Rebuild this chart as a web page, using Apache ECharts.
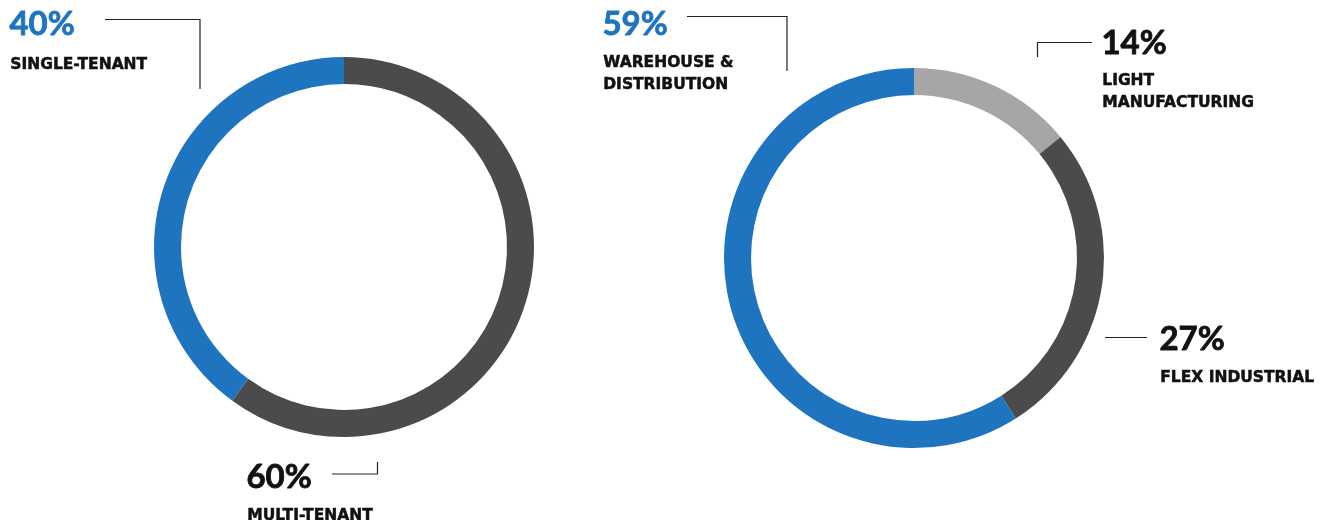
<!DOCTYPE html>
<html><head><meta charset="utf-8">
<script src="https://cdn.jsdelivr.net/npm/echarts@6/dist/echarts.min.js"></script>
<style>html,body{margin:0;padding:0;background:#fff}#c{width:1325px;height:520px}</style>
</head><body><div id="c"></div>
<script>
// Data
const tenancyNames = ['MULTI-TENANT', 'SINGLE-TENANT'];
const tenancyValues = [60, 40];
const typeNames = ['LIGHT\nMANUFACTURING', 'FLEX INDUSTRIAL', 'WAREHOUSE &\nDISTRIBUTION'];
const typeValues = [14, 27, 59];

const BLUE = '#1f74bf', DARK = '#4b4b4d', GRAY = '#a6a6a9';
const tenancyColors = [DARK, BLUE];
const typeColors = [GRAY, DARK, BLUE];

const chart = echarts.init(document.getElementById('c'), null, {renderer: 'canvas'});

function label(x, y, pct, name, pctColor, gap) {
  const els = [];
  els.push({type: 'text', left: x, top: y, style: {text: pct + '%', fill: pctColor, stroke: pctColor, lineWidth: 0.8, font: 'bold 33px Lato'}});
  els.push({type: 'text', left: x + 1, top: y + gap, style: {text: name, fill: '#111', stroke: '#111', lineWidth: 0.5, font: 'bold 15.5px "DejaVu Sans"', lineHeight: 22}});
  return els;
}
function line(points) {
  return {type: 'polyline', shape: {points: points}, style: {stroke: '#222', lineWidth: 1.2, fill: null}};
}

const graphics = [].concat(
  label(9, 7, tenancyValues[1], tenancyNames[1], BLUE, 47),
  label(246, 460, tenancyValues[0], tenancyNames[0], '#111', 45),
  label(602, 7, typeValues[2], typeNames[2], BLUE, 45),
  label(1101, 26, typeValues[0], typeNames[0], '#111', 44),
  label(1159, 322, typeValues[1], typeNames[1], '#111', 45),
  [
    line([[105, 19.5], [200, 19.5], [200, 89]]),
    line([[332, 474], [377.5, 474], [377.5, 462]]),
    line([[687, 16.5], [787, 16.5], [787, 71]]),
    line([[1092, 42.5], [1037.5, 42.5], [1037.5, 57]]),
    line([[1105, 337.5], [1147, 337.5]])
  ]
);

chart.setOption({
  animation: false,
  backgroundColor: '#fff',
  series: [
    {
      type: 'pie', center: [344, 247], radius: [163, 190], startAngle: 90, clockwise: true,
      label: {show: false}, labelLine: {show: false}, silent: true,
      data: tenancyNames.map((n, i) => ({name: n, value: tenancyValues[i], itemStyle: {color: tenancyColors[i]}}))
    },
    {
      type: 'pie', center: [914, 258], radius: [163, 190], startAngle: 90, clockwise: true,
      label: {show: false}, labelLine: {show: false}, silent: true,
      data: typeNames.map((n, i) => ({name: n, value: typeValues[i], itemStyle: {color: typeColors[i]}}))
    }
  ],
  graphic: graphics
});
</script></body></html>
